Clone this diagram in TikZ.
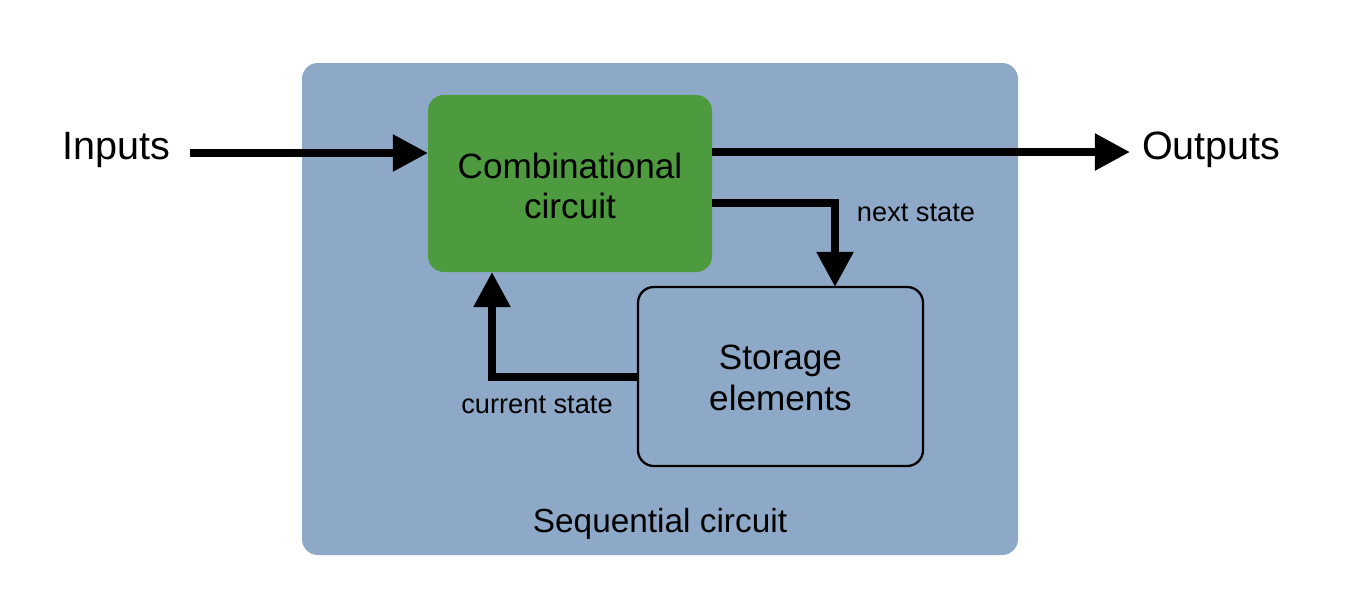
\documentclass[tikz,border=0pt]{standalone}
\usepackage{fontspec}
\setmainfont{Liberation Sans}
\usetikzlibrary{arrows.meta}
\definecolor{bgblue}{HTML}{8EA9C7}
\definecolor{cgreen}{HTML}{4E9A3E}
\begin{document}
\begin{tikzpicture}[x=0.02cm,y=-0.02cm,
  arr/.style={line width=4.6pt,-{Triangle[length=20pt,width=20pt]}},
  lbl/.style={font=\fontsize{22.5}{26}\selectfont},
  box/.style={font=\fontsize{20}{23}\selectfont,align=center},
  sm/.style={font=\fontsize{15.5}{18}\selectfont}]
\useasboundingbox (0,0) rectangle (1359,600);
\fill[bgblue,rounded corners=9pt] (302,63) rectangle (1018,555);
\node[fill=cgreen,rounded corners=9pt,minimum width=284*0.02cm,minimum height=177*0.02cm,inner sep=0pt] (comb) at (570,183.5) {};
\node[box] at (570,186) {Combinational\\circuit};
\node[draw=black,line width=1.3pt,rounded corners=9pt,minimum width=285*0.02cm,minimum height=179*0.02cm,inner sep=0pt] (stor) at (780.5,376.5) {};
\node[box] at (780.5,378) {Storage\\elements};
\node[lbl,anchor=east] (in) at (176,150) {Inputs};
\node[lbl,anchor=west] (out) at (1136,150) {Outputs};
\node[sm] (seq) at (660,524) {\fontsize{19}{22}\selectfont Sequential circuit};
\coordinate (a1) at (190,153);
\coordinate (a2) at (428,153);
\draw[arr] (a1) -- (a2);
\coordinate (b1) at (712,152);
\coordinate (b2) at (1130,152);
\draw[arr] (b1) -- (b2);
\coordinate (c1) at (712,203);
\coordinate (c2) at (835,203);
\coordinate (c3) at (835,287);
\draw[arr] (c1) -- (c2) -- (c3);
\coordinate (d1) at (638,377);
\coordinate (d2) at (492,377);
\coordinate (d3) at (492,272);
\draw[arr] (d1) -- (d2) -- (d3);
\node[sm] (ns) at (916,213) {next state};
\node[sm] (cs) at (537,405) {current state};
\end{tikzpicture}
\end{document}
